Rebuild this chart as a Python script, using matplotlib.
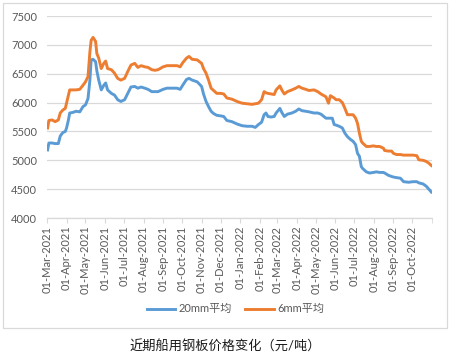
import matplotlib
matplotlib.use("Agg")
import matplotlib.pyplot as plt
import matplotlib.dates as mdates
from matplotlib.patches import Rectangle
import pandas as pd

plt.rcParams['font.family'] = ['Lato', 'Noto Sans CJK SC', 'DejaVu Sans']

# readings
dates = [
    "2021-03-02", "2021-03-04", "2021-03-09", "2021-03-14", "2021-03-19", "2021-03-22",
    "2021-03-26", "2021-03-30", "2021-04-01", "2021-04-04", "2021-04-06", "2021-04-11",
    "2021-04-16", "2021-04-22", "2021-04-27", "2021-05-01", "2021-05-05", "2021-05-08",
    "2021-05-10", "2021-05-13", "2021-05-17", "2021-05-19", "2021-05-22", "2021-05-26",
    "2021-05-30", "2021-06-02", "2021-06-05", "2021-06-11", "2021-06-16", "2021-06-21",
    "2021-06-26", "2021-07-02", "2021-07-07", "2021-07-12", "2021-07-18", "2021-07-23",
    "2021-07-28", "2021-08-03", "2021-08-08", "2021-08-14", "2021-08-19", "2021-08-24",
    "2021-09-01", "2021-09-07", "2021-09-15", "2021-09-23", "2021-09-28", "2021-10-02",
    "2021-10-08", "2021-10-12", "2021-10-17", "2021-10-25", "2021-11-01", "2021-11-04",
    "2021-11-08", "2021-11-12", "2021-11-16", "2021-11-20", "2021-11-25", "2021-12-01",
    "2021-12-06", "2021-12-11", "2021-12-19", "2021-12-27", "2022-01-04", "2022-01-12",
    "2022-01-20", "2022-01-25", "2022-01-30", "2022-02-04", "2022-02-08", "2022-02-11",
    "2022-02-14", "2022-02-19", "2022-02-24", "2022-02-27", "2022-03-05", "2022-03-08",
    "2022-03-12", "2022-03-17", "2022-03-24", "2022-03-30", "2022-04-04", "2022-04-09",
    "2022-04-15", "2022-04-20", "2022-04-28", "2022-05-04", "2022-05-09", "2022-05-17",
    "2022-05-21", "2022-05-24", "2022-05-27", "2022-05-30", "2022-06-02", "2022-06-07",
    "2022-06-12", "2022-06-16", "2022-06-20", "2022-06-25", "2022-06-29", "2022-07-03",
    "2022-07-06", "2022-07-09", "2022-07-12", "2022-07-14", "2022-07-20", "2022-07-25",
    "2022-07-31", "2022-08-05", "2022-08-10", "2022-08-16", "2022-08-18", "2022-08-24",
    "2022-08-29", "2022-09-01", "2022-09-06", "2022-09-12", "2022-09-17", "2022-09-25",
    "2022-10-02", "2022-10-08", "2022-10-11", "2022-10-18", "2022-10-23", "2022-10-27",
    "2022-10-31",
]
avg_20mm = [
    5180, 5300, 5300, 5290, 5290, 5420, 5480, 5500, 5560, 5700, 5820, 5830,
    5850, 5840, 5930, 5960, 6070, 6390, 6740, 6750, 6710, 6550, 6390, 6220,
    6300, 6340, 6220, 6160, 6130, 6050, 6020, 6050, 6160, 6270, 6280, 6250,
    6270, 6250, 6230, 6190, 6190, 6190, 6230, 6250, 6250, 6250, 6230, 6300,
    6400, 6420, 6390, 6360, 6280, 6150, 6020, 5930, 5850, 5810, 5780, 5770,
    5760, 5690, 5670, 5630, 5600, 5590, 5590, 5570, 5620, 5660, 5790, 5820,
    5760, 5750, 5760, 5820, 5900, 5830, 5760, 5800, 5820, 5850, 5890, 5860,
    5850, 5840, 5820, 5820, 5800, 5730, 5730, 5730, 5730, 5620, 5610, 5590,
    5560, 5470, 5410, 5360, 5330, 5270, 5120, 5070, 4890, 4860, 4800, 4780,
    4790, 4800, 4790, 4790, 4780, 4740, 4720, 4710, 4700, 4690, 4630, 4620,
    4630, 4630, 4610, 4590, 4550, 4500, 4450,
]
avg_6mm = [
    5560, 5690, 5700, 5670, 5700, 5820, 5870, 5900, 5990, 6130, 6220, 6220,
    6220, 6230, 6300, 6360, 6450, 6880, 7080, 7130, 7060, 6850, 6770, 6590,
    6680, 6720, 6590, 6570, 6510, 6420, 6390, 6420, 6540, 6650, 6680, 6610,
    6640, 6620, 6610, 6570, 6560, 6570, 6620, 6640, 6640, 6640, 6620, 6690,
    6770, 6800, 6750, 6740, 6680, 6590, 6510, 6390, 6250, 6210, 6160, 6160,
    6150, 6080, 6060, 6020, 5990, 5980, 5970, 5980, 5990, 6050, 6190, 6170,
    6160, 6150, 6140, 6220, 6290, 6220, 6150, 6190, 6220, 6250, 6280, 6250,
    6230, 6210, 6220, 6190, 6150, 6100, 5990, 6120, 6100, 6080, 6050, 6050,
    6000, 5900, 5790, 5790, 5790, 5730, 5640, 5470, 5330, 5300, 5240, 5240,
    5250, 5240, 5240, 5210, 5170, 5160, 5160, 5120, 5100, 5100, 5090, 5090,
    5090, 5080, 5010, 5000, 4980, 4950, 4910,
]
series_names = ["20mm平均", "6mm平均"]
title = "近期船用钢板价格变化（元/吨）"
y_ticks = [4000, 4500, 5000, 5500, 6000, 6500, 7000, 7500]
month_ticks = pd.date_range("2021-03-01", "2022-10-01", freq="MS")

x = pd.to_datetime(dates)

fig = plt.figure(figsize=(4.5, 3.61), dpi=100)
ax = fig.add_axes([0.1044, 0.396, 0.8556, 0.5596])

ax.plot(x, avg_20mm, color="#5B9BD5", linewidth=2.1, label=series_names[0], solid_joinstyle="round")
ax.plot(x, avg_6mm, color="#ED7D31", linewidth=2.1, label=series_names[1], solid_joinstyle="round")

ax.set_xlim(pd.Timestamp("2021-03-01"), pd.Timestamp("2022-11-01"))
ax.set_ylim(4000, 7500)
ax.set_yticks(y_ticks)
ax.set_yticklabels([str(v) for v in y_ticks])
ax.set_xticks(month_ticks)
ax.set_xticklabels([d.strftime("%d-%b-%Y") for d in month_ticks], rotation=90)
ax.set_xticks([pd.Timestamp("2022-11-01")], minor=True)

ax.grid(axis="y", color="#D9D9D9", linewidth=0.9)
ax.set_axisbelow(True)
for s in ["top", "right", "left"]:
    ax.spines[s].set_visible(False)
ax.spines["bottom"].set_color("#D9D9D9")
ax.spines["bottom"].set_linewidth(0.9)
ax.tick_params(axis="y", length=0, pad=7, labelsize=8, labelcolor="#595959")
ax.tick_params(axis="x", which="both", length=3.5, color="#D9D9D9", pad=2,
               labelsize=8, labelcolor="#595959")

ax.legend(loc="center", bbox_to_anchor=(0.49, -0.45), ncol=2, frameon=False,
          fontsize=8, handlelength=2.6, handletextpad=0.3, columnspacing=1.2,
          labelcolor="#595959")

fig.text(0.5, 0.022, title, ha="center", va="bottom", fontsize=9.5, color="#1a1a1a")

fig.patches.append(Rectangle((3 / 450, 1 - 328 / 361), 444 / 450, 325 / 361,
                             transform=fig.transFigure, fill=False,
                             edgecolor="#D9D9D9", linewidth=0.9))

fig.savefig("out.png", dpi=100)
